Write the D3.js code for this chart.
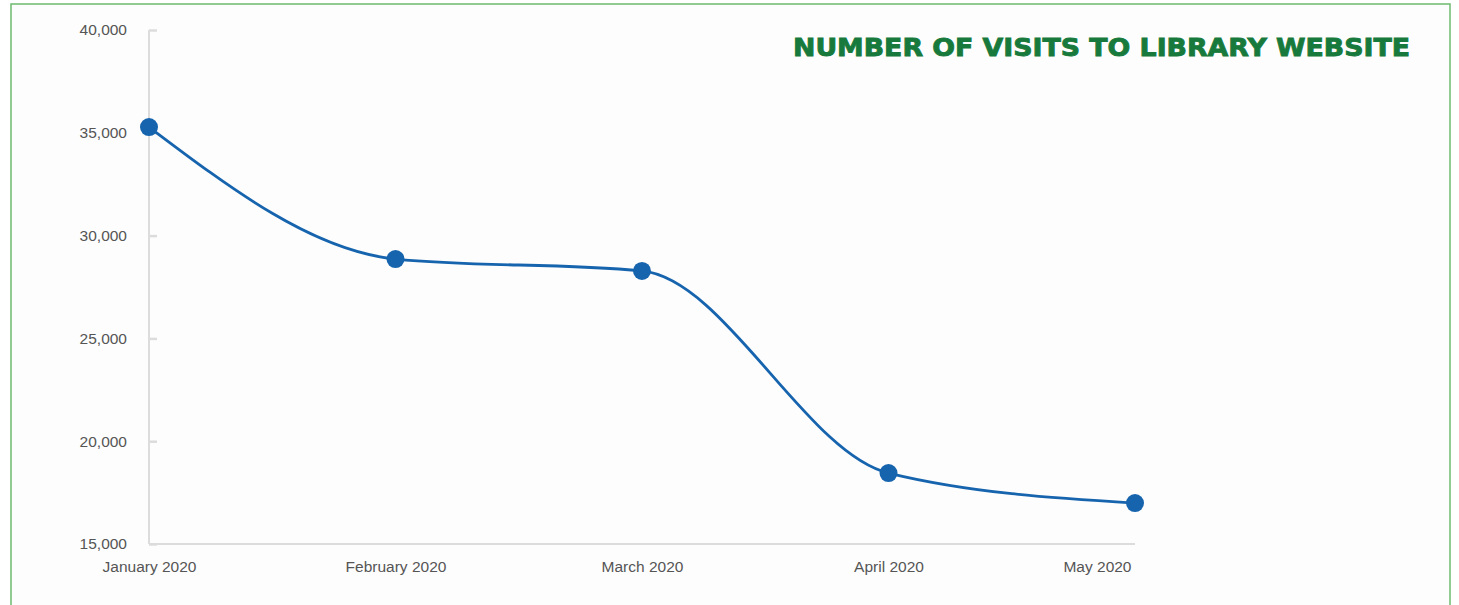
<!DOCTYPE html>
<html>
<head>
<meta charset="utf-8">
<script src="https://cdn.jsdelivr.net/npm/d3@7"></script>
<style>
  html, body { margin: 0; padding: 0; background: #ffffff; }
  svg { display: block; }
</style>
</head>
<body>
<svg id="chart" width="1459" height="605"></svg>
<script>
// Monthly visits to the library website
const months = ["January 2020", "February 2020", "March 2020", "April 2020", "May 2020"];
const visits = [35280, 28860, 28280, 18450, 16990];
const yTicks = [15000, 20000, 25000, 30000, 35000, 40000];
const title = "NUMBER OF VISITS TO LIBRARY WEBSITE";

(function () {
  const svg = d3.select("#chart");

  // framed panel
  svg.append("rect")
    .attr("x", 11).attr("y", 4)
    .attr("width", 1439).attr("height", 610)
    .attr("fill", "#fdfdfd")
    .attr("stroke", "#6dbb6f")
    .attr("stroke-width", 1.5);

  const plotLeft = 149, plotRight = 1135, plotTop = 30, plotBottom = 544;
  const labelFont = "Liberation Sans, Arial, sans-serif";

  const x = d3.scalePoint().domain(months).range([plotLeft, plotRight]);
  const y = d3.scaleLinear().domain([15000, 40000]).range([plotBottom, plotTop]);

  // y axis: light rule with inward ticks
  const yAxis = d3.axisLeft(y)
    .tickValues(yTicks)
    .tickFormat(d3.format(","))
    .tickSize(-8)
    .tickPadding(22);
  const gy = svg.append("g").attr("transform", `translate(${plotLeft},0)`).call(yAxis);
  gy.select(".domain").remove();
  gy.selectAll(".tick line").attr("stroke", "#dcdcdc").attr("stroke-width", 2.5);
  gy.append("line")
    .attr("x1", 0).attr("x2", 0).attr("y1", plotTop).attr("y2", plotBottom)
    .attr("stroke", "#dcdcdc").attr("stroke-width", 2);
  gy.selectAll(".tick text")
    .attr("fill", "#555")
    .style("font-family", labelFont)
    .style("font-size", "15.5px");

  // x axis
  const xAxis = d3.axisBottom(x).tickSize(0).tickPadding(17);
  const gx = svg.append("g").attr("transform", `translate(0,${plotBottom})`).call(xAxis);
  gx.select(".domain").attr("stroke", "#dcdcdc").attr("stroke-width", 2)
    .attr("d", `M${plotLeft},0H${plotRight}`);
  gx.selectAll(".tick text")
    .attr("fill", "#555")
    .style("font-family", labelFont)
    .style("font-size", "15.5px");
  // last label sits flush with the end of the axis
  gx.selectAll(".tick text")
    .filter(d => d === months[months.length - 1])
    .attr("text-anchor", "end")
    .attr("x", -4);

  // series
  const pts = months.map((m, i) => ({ m, v: visits[i] }));
  const line = d3.line()
    .x(d => x(d.m))
    .y(d => y(d.v))
    .curve(d3.curveMonotoneX);

  svg.append("path")
    .datum(pts)
    .attr("d", line)
    .attr("fill", "none")
    .attr("stroke", "#1764ae")
    .attr("stroke-width", 2.8);

  svg.selectAll("circle.pt")
    .data(pts)
    .join("circle")
    .attr("class", "pt")
    .attr("cx", d => x(d.m))
    .attr("cy", d => y(d.v))
    .attr("r", 9)
    .attr("fill", "#1764ae");

  // title
  svg.append("text")
    .attr("x", 793).attr("y", 56)
    .attr("textLength", 617)
    .attr("lengthAdjust", "spacingAndGlyphs")
    .attr("fill", "#177a3c")
    .attr("stroke", "#177a3c")
    .attr("stroke-width", 0.9)
    .style("font-family", "'DejaVu Sans', sans-serif")
    .style("font-weight", 700)
    .style("font-size", "25px")
    .text(title);
})();
</script>
</body>
</html>
